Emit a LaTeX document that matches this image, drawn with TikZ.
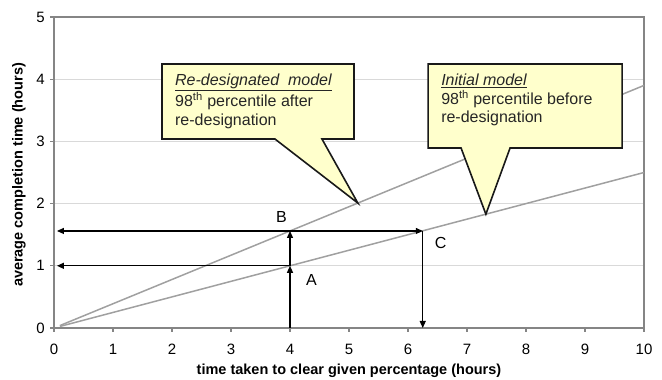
\documentclass[tikz,border=0pt]{standalone}
\usepackage{fontspec}
\setmainfont{Liberation Sans}
\usetikzlibrary{positioning,calc,arrows.meta}
\definecolor{notefill}{HTML}{FFFFCC}
\definecolor{gridgray}{HTML}{D9D9D9}
\definecolor{axisgray}{HTML}{858585}
\definecolor{seriesgray}{HTML}{A0A0A0}
\tikzset{
  series/.style={seriesgray, line width=1.5pt},
  grid line/.style={gridgray, line width=0.8pt},
  axis line/.style={axisgray, line width=1.3pt},
  arrowline/.style={black, line width=1.2pt, -{Triangle[length=7pt,width=6pt]}},
  ticklabel/.style={inner sep=0pt, font=\fontsize{15}{17}\selectfont},
  axistitle/.style={inner sep=0pt, font=\bfseries\fontsize{14.5}{17}\selectfont},
  letter/.style={inner sep=0pt, font=\fontsize{16}{18}\selectfont},
  notebox/.style={inner sep=0pt, outer sep=0pt, anchor=north west},
  notetext/.style={inner sep=0pt, align=left, font=\fontsize{16}{18.5}\selectfont, text=black!85},
  noteshape/.style={fill=notefill, draw=black!90, line width=1.6pt, line join=miter},
}

\begin{document}
\begin{tikzpicture}[x=59pt, y=62.2pt]
    \useasboundingbox (-54pt,-52pt) rectangle (608pt,328pt);
    \foreach \y in {1,...,4}
        \draw [grid line] (0,\y) -- (10,\y);
    \draw [axis line] (0,5) -- (10,5) -- (10,0);
    \draw [axis line] (0,5) -- (0,0) -- (10,0);
    \foreach \x in {0,...,10} {
        \draw [axis line] (\x,0) -- ++(0,-4pt);
        \node (x\x) [ticklabel, below=16pt] at (\x,0) {\x};
    }
    \foreach \y in {0,...,5} {
        \draw [axis line] (0,\y) -- ++(-4pt,0);
        \node (y\y) [ticklabel, left=9pt] at (0,\y) {\y};
    }
    \node (xt) [axistitle] at (5,-0.69) {time taken to clear given percentage (hours)};
    \node (yt) [axistitle, rotate=90] at (-0.593,2.46) {average completion time (hours)};

    \draw [series] (0.1,0.039) -- (10,3.9);
    \draw [series] (0.1,0.025) -- (10,2.5);

    \coordinate (o4) at (4,0);
    \coordinate (a) at (4,1);
    \coordinate (b) at (4,1.56);
    \coordinate (c) at (6.25,1.56);
    \coordinate (o6) at (6.25,0);
    \coordinate (ya) at (0.05,1);
    \coordinate (yb) at (0.05,1.56);
    \draw [arrowline] (o4) -- (a);
    \draw [arrowline] (a) -- (b);
    \draw [arrowline] (a) -- (ya);
    \draw [arrowline] (b) -- (yb);
    \draw [arrowline] (b) -- (c);
    \draw [arrowline] (c) -- (o6);
    \node [letter, below right=8.5pt and 16pt of a] {A};
    \node [letter, above left=8pt and 3pt of b] {B};
    \node [letter, below right=6pt and 12pt of c] {C};

    \node (r1) [notebox, minimum width=192pt, minimum height=75pt] at (1.83,4.244) {};
    \coordinate (p1) at (5.15,2.0085);
    \filldraw [noteshape] (r1.north west) -- (r1.north east) -- (r1.south east)
        -- ($(r1.south west)+(160pt,0)$) -- (p1) -- ($(r1.south west)+(113pt,0)$)
        -- (r1.south west) -- cycle;
    \node (t1) [notetext, below right=10pt and 13pt of r1.north west]
        {\underline{\textit{Re-designated\ \ model}}\\98\textsuperscript{th} percentile after\\re-designation};

    \node (r2) [notebox, minimum width=194pt, minimum height=84pt] at (6.34,4.244) {};
    \coordinate (p2) at (7.32,1.83);
    \filldraw [noteshape] (r2.north west) -- (r2.north east) -- (r2.south east)
        -- ($(r2.south west)+(82pt,0)$) -- (p2) -- ($(r2.south west)+(33pt,0)$)
        -- (r2.south west) -- cycle;
    \node (t2) [notetext, below right=10pt and 13pt of r2.north west]
        {\underline{\textit{Initial model}}\\98\textsuperscript{th} percentile before\\re-designation};
\end{tikzpicture}
\end{document}
